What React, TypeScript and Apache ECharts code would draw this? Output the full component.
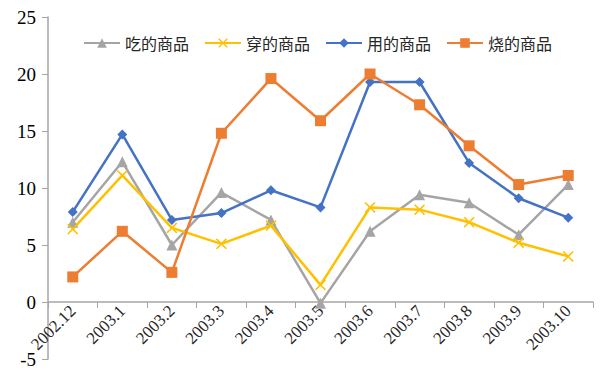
import React, { useEffect, useRef } from "react";
import * as echarts from "echarts";

const categories = ["2002.12", "2003.1", "2003.2", "2003.3", "2003.4", "2003.5", "2003.6", "2003.7", "2003.8", "2003.9", "2003.10"];
const eatValues = [7.0, 12.3, 5.0, 9.6, 7.2, -0.1, 6.2, 9.4, 8.7, 5.9, 10.3];
const wearValues = [6.4, 11.1, 6.5, 5.1, 6.7, 1.5, 8.3, 8.1, 7.0, 5.2, 4.0];
const useValues = [7.9, 14.7, 7.2, 7.8, 9.8, 8.3, 19.3, 19.3, 12.2, 9.1, 7.4];
const burnValues = [2.2, 6.2, 2.6, 14.8, 19.6, 15.9, 20.0, 17.3, 13.7, 10.3, 11.1];
const seriesNames = ["吃的商品", "穿的商品", "用的商品", "烧的商品"];

const crossPath =
  "path://M1,0L5,4L9,0L10,1L6,5L10,9L9,10L5,6L1,10L0,9L4,5L0,1Z";

export default function App() {
  const ref = useRef<HTMLDivElement>(null);
  useEffect(() => {
    if (!ref.current) return;
    const chart = echarts.init(ref.current, null, { renderer: "svg" });
    const mk = (name: string, data: number[], color: string, symbol: string, size: number) => ({
      name,
      type: "line",
      data,
      symbol,
      symbolSize: size,
      showSymbol: true,
      lineStyle: { color, width: 2.5 },
      itemStyle: { color },
    });
    chart.setOption({
      animation: false,
      backgroundColor: "#ffffff",
      legend: {
        top: 30,
        left: 78,
        itemWidth: 36,
        itemHeight: 12,
        itemGap: 15,
        textStyle: { fontFamily: "Noto Sans CJK SC", fontSize: 16, color: "#262626" },
        data: seriesNames,
      },
      grid: { left: 48, right: 7, top: 17, bottom: 19, containLabel: false, outerBoundsMode: "none" },
      xAxis: {
        type: "category",
        data: categories,
        boundaryGap: true,
        offset: -57,
        axisLine: { onZero: false, lineStyle: { color: "#a6a6a6", width: 1.5 } },
        axisTick: { show: true, alignWithLabel: false, length: 6, lineStyle: { color: "#a6a6a6" } },
        axisLabel: {
          rotate: 45,
          interval: 0,
          fontFamily: "Liberation Serif",
          fontSize: 17,
          color: "#262626",
          margin: 6,
        },
      },
      yAxis: {
        type: "value",
        min: -5,
        max: 25,
        interval: 5,
        splitLine: { show: false },
        axisLine: { show: true, lineStyle: { color: "#a6a6a6", width: 1.5 } },
        axisTick: { show: true, length: 6, lineStyle: { color: "#a6a6a6" } },
        axisLabel: { fontFamily: "Liberation Serif", fontSize: 19, color: "#000000", margin: 12 },
      },
      series: [
        mk(seriesNames[0], eatValues, "#a5a5a5", "triangle", 11),
        mk(seriesNames[1], wearValues, "#ffc000", crossPath, 11),
        mk(seriesNames[2], useValues, "#4472c4", "diamond", 10),
        mk(seriesNames[3], burnValues, "#ed7d31", "rect", 11),
      ],
    });
    return () => chart.dispose();
  }, []);
  return <div ref={ref} style={{ width: 600, height: 378, position: "absolute", left: 0, top: 0 }} />;
}
